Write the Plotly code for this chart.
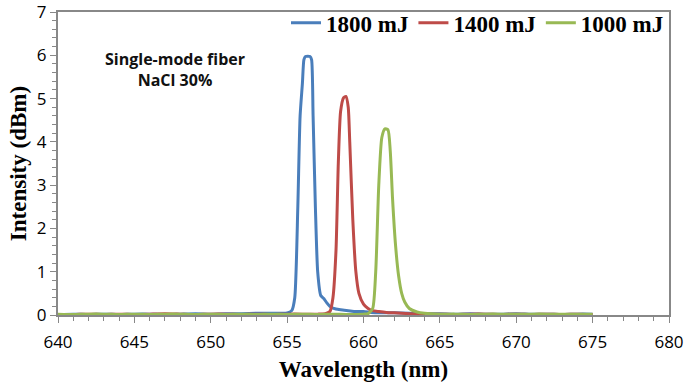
import plotly.graph_objects as go

# Wavelength (nm) and intensity (dBm) for each pulse energy
wl_1800 = [640, 641, 642, 643, 644, 645, 646, 647, 648, 649, 650, 651, 652, 653, 654, 655,
           655.3, 655.5, 655.7, 655.85, 656.0, 656.1, 656.2, 656.5, 656.6, 656.7, 656.85,
           657.0, 657.2, 657.4, 657.6, 657.8, 658.0, 658.5, 659.0, 659.5, 660.0, 660.5,
           661, 662, 663, 664, 665, 666, 667, 668, 669, 670, 671, 672, 673, 674, 675]
int_1800 = [0.01, 0.02, 0.01, 0.02, 0.01, 0.02, 0.02, 0.01, 0.02, 0.03, 0.02, 0.03, 0.03, 0.04, 0.04, 0.05,
            0.1, 0.4, 2.5, 4.6, 5.35, 5.9, 5.97, 5.97, 5.9, 4.6, 2.5,
            1.0, 0.45, 0.38, 0.28, 0.2, 0.16, 0.12, 0.1, 0.08, 0.08, 0.06,
            0.05, 0.05, 0.04, 0.03, 0.03, 0.02, 0.03, 0.02, 0.02, 0.03, 0.02, 0.02, 0.01, 0.02, 0.02]

wl_1400 = [640, 641, 642, 643, 644, 645, 646, 647, 648, 649, 650, 651, 652, 653, 654, 655, 656, 657,
           657.5, 657.8, 658.0, 658.2, 658.35, 658.5, 658.7, 658.85, 659.0, 659.1, 659.3, 659.5,
           659.7, 660.0, 660.3, 660.6, 661, 661.5, 662, 663, 664, 665, 666, 667, 668, 669, 670,
           671, 672, 673, 674, 675]
int_1400 = [0.01, 0.01, 0.02, 0.01, 0.02, 0.01, 0.02, 0.03, 0.02, 0.01, 0.02, 0.02, 0.01, 0.02, 0.01, 0.02, 0.02, 0.02,
            0.03, 0.08, 0.4, 1.5, 3.5, 4.7, 5.02, 5.05, 4.8, 4.0, 2.2, 1.0,
            0.5, 0.25, 0.15, 0.1, 0.08, 0.06, 0.05, 0.03, 0.02, 0.02, 0.01, 0.02, 0.02, 0.01, 0.02,
            0.01, 0.02, 0.01, 0.02, 0.01]

wl_1000 = [640, 641, 642, 643, 644, 645, 646, 647, 648, 649, 650, 651, 652, 653, 654, 655, 656, 657,
           658, 659, 660, 660.3, 660.6, 660.8, 661.0, 661.2, 661.4, 661.6, 661.75, 661.9, 662.1,
           662.3, 662.5, 662.7, 663.0, 663.5, 664, 665, 666, 667, 668, 669, 670, 671, 672, 673,
           674, 675]
int_1000 = [0.02, 0.01, 0.02, 0.02, 0.01, 0.02, 0.01, 0.02, 0.02, 0.01, 0.02, 0.01, 0.02, 0.01, 0.02, 0.01, 0.02, 0.01,
            0.02, 0.01, 0.02, 0.03, 0.15, 1.0, 3.0, 4.1, 4.3, 4.28, 3.8, 2.7, 1.6,
            0.9, 0.5, 0.3, 0.15, 0.07, 0.04, 0.02, 0.02, 0.01, 0.02, 0.02, 0.015, 0.02, 0.02, 0.015,
            0.02, 0.02]

series = [
    ("<b>1800 mJ</b>", wl_1800, int_1800, "#4a7ebb"),
    ("<b>1400 mJ</b>", wl_1400, int_1400, "#be4b48"),
    ("<b>1000 mJ</b>", wl_1000, int_1000, "#98b954"),
]

fig = go.Figure()
for name, x, y, c in series:
    fig.add_trace(go.Scatter(x=x, y=y, mode="lines", name=name,
                             line=dict(color=c, width=3, shape="spline", smoothing=0.6)))

tickfont = dict(family="Open Sans, Liberation Sans, sans-serif", size=17, color="#000")
titlefont = dict(family="Liberation Serif, Times New Roman, serif", size=23, color="#000")

fig.update_layout(
    width=685, height=382,
    margin=dict(l=58, r=16, t=12, b=67, autoexpand=False),
    paper_bgcolor="white", plot_bgcolor="white",
    showlegend=True,
    legend=dict(orientation="h", x=1.0, xanchor="right", y=1.035, yanchor="top",
                font=dict(family="Liberation Serif, Times New Roman, serif", size=23, color="#000"),
                bgcolor="rgba(0,0,0,0)", itemwidth=30, tracegroupgap=0),
    xaxis=dict(range=[640, 680], tickmode="linear", tick0=640, dtick=5,
               ticks="outside", ticklen=6, tickcolor="#888", tickwidth=1,
               minor=dict(dtick=1, ticks="outside", ticklen=4, tickcolor="#888"),
               showline=True, linecolor="#888", linewidth=2, mirror=True,
               showgrid=False, zeroline=False, tickfont=tickfont, automargin=False,
               ticklabeloverflow="allow", ticklabelstandoff=5,
               title=dict(text="<b>Wavelength (nm)</b>", font=titlefont, standoff=8)),
    yaxis=dict(range=[0, 7], tickmode="linear", tick0=0, dtick=1,
               ticks="outside", ticklen=6, tickcolor="#888", tickwidth=1,
               minor=dict(dtick=0.2, ticks="outside", ticklen=4, tickcolor="#888"),
               showline=True, linecolor="#888", linewidth=2, mirror=True,
               showgrid=False, zeroline=False, tickfont=tickfont, automargin=False,
               ticklabeloverflow="allow",
               title=dict(text="<b>Intensity (dBm)</b>", font=titlefont, standoff=4)),
    annotations=[dict(text="<b>Single-mode fiber<br>NaCl 30%</b>", x=0.192, xref="paper",
                      xanchor="center", yanchor="middle",
                      y=0.81, yref="paper", showarrow=False, align="center",
                      font=dict(family="Open Sans, Liberation Sans, sans-serif", size=16, color="#111"))],
)

fig.write_html("out.html", config={"displayModeBar": False},
               post_script="document.body.style.margin='0';")
